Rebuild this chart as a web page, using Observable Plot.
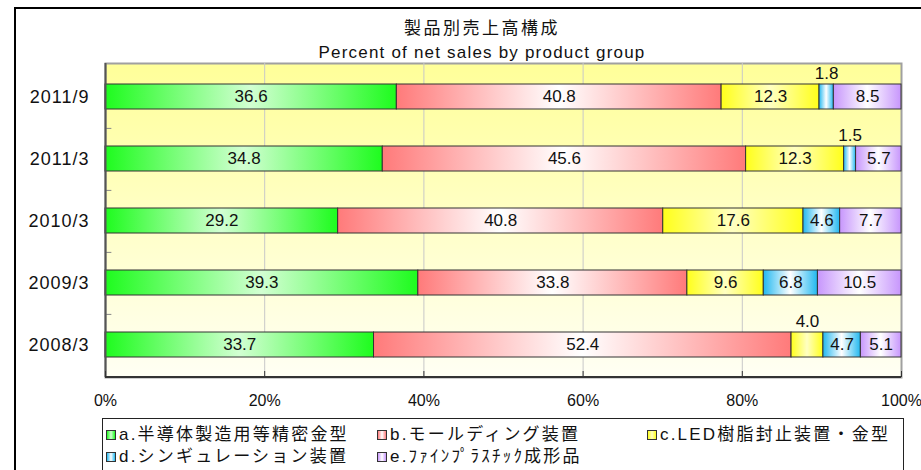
<!DOCTYPE html>
<html><head><meta charset="utf-8">
<script src="https://cdn.jsdelivr.net/npm/d3@7"></script>
<script src="https://cdn.jsdelivr.net/npm/@observablehq/plot@0.6"></script>
<style>
html,body{margin:0;padding:0;}
body{width:921px;height:470px;overflow:hidden;background:#fff;position:relative;font-family:"Liberation Sans","Noto Sans CJK JP",sans-serif;color:#111;}
#frame{position:absolute;left:14px;top:7px;width:1000px;height:1000px;border-left:2px solid #000;border-top:2px solid #000;}
.title{position:absolute;left:0;width:964px;text-align:center;font-size:17px;line-height:20px;white-space:nowrap;}
#t1{top:19px;letter-spacing:2.5px;}
#t2{top:43px;letter-spacing:1.2px;}
#chart{position:absolute;left:0;top:60px;}
#legend{position:absolute;left:102px;top:418px;width:802px;height:70px;border:1px solid #222;box-sizing:border-box;}
.item{position:absolute;display:flex;align-items:center;font-size:17px;line-height:19px;white-space:nowrap;letter-spacing:2.2px;}
.sw{width:8px;height:8px;border:1px solid #333;margin-right:3px;flex:none;}
</style></head>
<body>
<div id="frame"></div>
<div class="title" id="t1">製品別売上高構成</div>
<div class="title" id="t2">Percent of net sales by product group</div>
<div id="chart"></div>
<div id="legend"></div>
<script>
const categories = ["2011/9", "2011/3", "2010/3", "2009/3", "2008/3"];
const seriesKeys = ["a", "b", "c", "d", "e"];
const seriesNames = ["a.半導体製造用等精密金型", "b.モールディング装置", "c.LED樹脂封止装置・金型", "d.シンギュレーション装置", "e.ﾌｧｲﾝﾌﾟﾗｽﾁｯｸ成形品"];
const valuesA = [36.6, 34.8, 29.2, 39.3, 33.7];
const valuesB = [40.8, 45.6, 40.8, 33.8, 52.4];
const valuesC = [12.3, 12.3, 17.6, 9.6, 4.0];
const valuesD = [1.8, 1.5, 4.6, 6.8, 4.7];
const valuesE = [8.5, 5.7, 7.7, 10.5, 5.1];
const xTickValues = [0, 20, 40, 60, 80, 100];
const edgeColors = ["#1efc1e", "#ff7a7a", "#ffff1a", "#22b8f0", "#c796fc"];
const midColors = ["#d2ffd2", "#ffffff", "#ffffc2", "#ffffff", "#ffffff"];

const seriesValues = [valuesA, valuesB, valuesC, valuesD, valuesE];
const rows = [];
categories.forEach((cat, i) => {
  seriesKeys.forEach((k, j) => rows.push({cat, key: k, value: seriesValues[j][i]}));
});
const small = v => v < 4.5;
const xTicks = xTickValues.map(d => d / 100);
const FONT = '"Liberation Sans","Noto Sans CJK JP",sans-serif';

const chart = Plot.plot({
  width: 921,
  height: 358,
  marginTop: 3,
  marginBottom: 41,
  marginLeft: 105,
  marginRight: 20,
  style: {fontFamily: FONT, fontSize: "16px", color: "#111", background: "transparent"},
  x: {domain: [0, 1]},
  y: {domain: categories, type: "band", paddingInner: 0.6, paddingOuter: 0.3},
  color: {domain: seriesKeys, range: seriesKeys.map(k => `url(#grad-${k})`)},
  marks: [
    Plot.frame({fill: "#ffffcc", stroke: "#a0a0a0", strokeWidth: 2}),
    Plot.ruleX(xTicks.slice(1, -1), {stroke: "#c8c8c8", strokeWidth: 1}),
    Plot.ruleY(categories.slice(0, -1), {y: d => d, x1: 0, x2: 0.008, dy: 31.4, stroke: "#888"}),
    Plot.barX(rows, Plot.stackX({offset: "normalize", x: "value", y: "cat", fill: "key", stroke: "#333", strokeWidth: 1})),
    Plot.text(rows, Plot.stackX({offset: "normalize", x: "value", y: "cat", text: d => small(d.value) ? null : d.value.toFixed(1), fill: "#111", fontSize: 17})),
    Plot.text(rows, Plot.stackX({offset: "normalize", x: "value", y: "cat", text: d => small(d.value) ? d.value.toFixed(1) : null, dy: -23, fill: "#111", fontSize: 17})),
    Plot.ruleX([0], {stroke: "#555", strokeWidth: 2}),
    Plot.axisY({tickSize: 0, tickPadding: 16, fontSize: 18, label: null}),
    Plot.axisX({ticks: xTicks, tickSize: -6, tickFormat: () => "", label: null, stroke: "#333"}),
    Plot.axisX({ticks: xTicks, tickSize: 0, tickPadding: 17, tickFormat: d => Math.round(d * 100) + "%", fontSize: 16, label: null})
  ]
});

// gradient definitions
const svg = d3.select(chart);
const defs = svg.insert("defs", ":first-child");
seriesKeys.forEach((k, j) => {
  const g = defs.append("linearGradient").attr("id", `grad-${k}`).attr("x1", "0").attr("x2", "1").attr("y1", "0").attr("y2", "0");
  g.append("stop").attr("offset", "0").attr("stop-color", edgeColors[j]);
  g.append("stop").attr("offset", "0.5").attr("stop-color", midColors[j]);
  g.append("stop").attr("offset", "1").attr("stop-color", edgeColors[j]);
});
const bg = defs.append("linearGradient").attr("id", "bgGrad").attr("x1", "0").attr("x2", "0").attr("y1", "0").attr("y2", "1");
bg.append("stop").attr("offset", "0").attr("stop-color", "#ffff99");
bg.append("stop").attr("offset", "1").attr("stop-color", "#fffff4");
svg.select('[aria-label="frame"]').attr("fill", "url(#bgGrad)").selectAll("rect").attr("fill", "url(#bgGrad)");
svg.selectAll('[aria-label="y-axis tick label"] text').attr("letter-spacing", "1px");
// bottom axis line
svg.append("line").attr("x1", 105).attr("x2", 901).attr("y1", 317).attr("y2", 317).attr("stroke", "#333").attr("stroke-width", 2);
document.getElementById("chart").appendChild(chart);

// legend
const legend = document.getElementById("legend");
const legendCols = [3, 274, 544];
seriesNames.forEach((name, j) => {
  const item = document.createElement("div");
  item.className = "item";
  item.style.left = legendCols[j % 3] + "px";
  item.style.top = (j < 3 ? 6 : 28) + "px";
  const sw = document.createElement("div");
  sw.className = "sw";
  sw.style.background = `linear-gradient(to right, ${edgeColors[j]}, ${midColors[j]}, ${edgeColors[j]})`;
  item.appendChild(sw);
  const t = document.createElement("span");
  t.textContent = name;
  item.appendChild(t);
  legend.appendChild(item);
});
</script>
</body></html>
